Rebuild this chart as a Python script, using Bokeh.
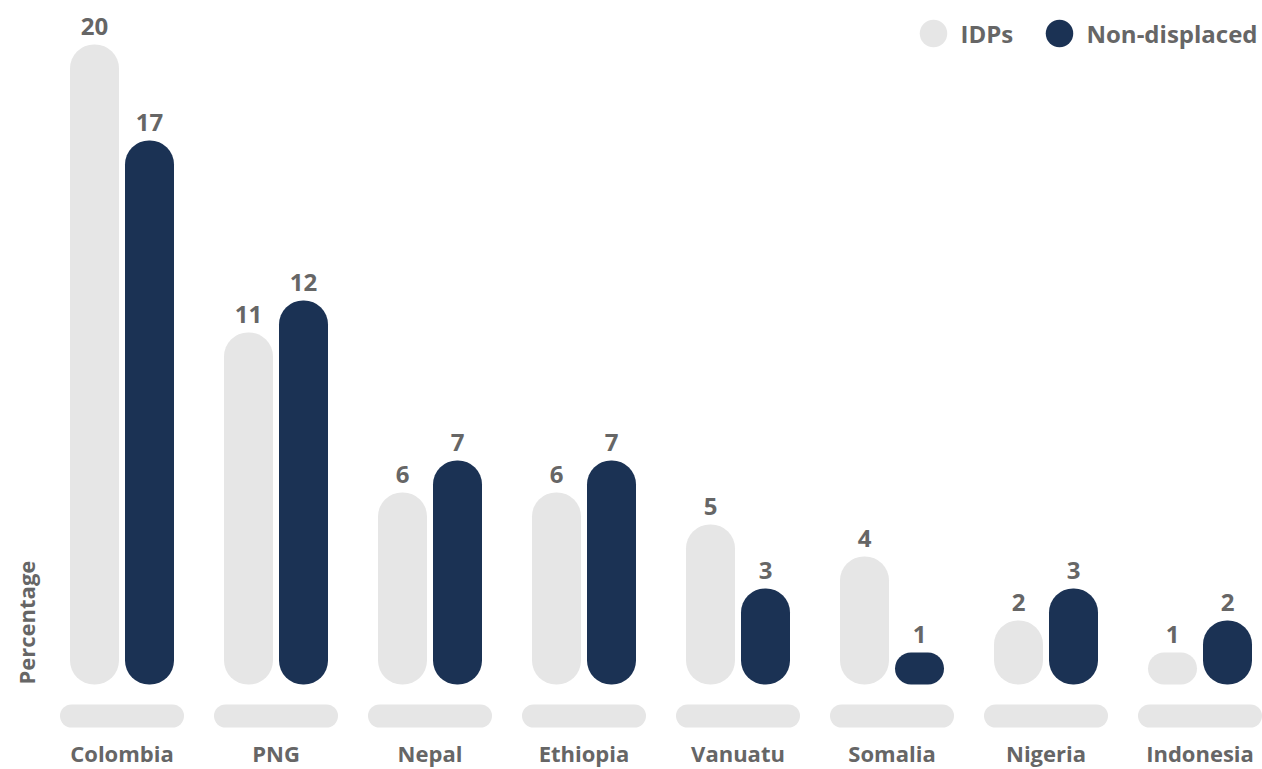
from bokeh.plotting import figure
from bokeh.models import Range1d, ColumnDataSource
from bokeh.transform import dodge
from bokeh.core.properties import value
from bokeh.embed import file_html
from bokeh.resources import INLINE
import math

# ---- data ----
countries = ["Colombia", "PNG", "Nepal", "Ethiopia", "Vanuatu", "Somalia", "Nigeria", "Indonesia"]
idps = [20, 11, 6, 6, 5, 4, 2, 1]
non_displaced = [17, 12, 7, 7, 3, 1, 3, 2]
series_names = ["IDPs", "Non-displaced"]
axis_title = "Percentage"

# ---- style ----
GREY = "#e6e6e6"
NAVY = "#1b3254"
TXT = "#666666"
FONT = value("Open Sans")
FIX = -9.5   # baseline correction for svg text (px)

W, H = 1262, 769
# layout mapping (canvas pixels -> data units)
X0, XS = 121.5, 154.0          # x of first group centre, px per category
Y0, YS = 684.0, 32.0            # y of zero line, px per unit
def X(px):
    return (px - X0) / XS
def Y(py):
    return (Y0 - py) / YS

p = figure(width=W, height=H, output_backend="svg", toolbar_location=None,
           x_range=Range1d(X(0), X(W)), y_range=Range1d(Y(H), Y(0)),
           min_border=0, outline_line_color=None, background_fill_color="white")
p.axis.visible = False
p.grid.visible = False

idx = list(range(len(countries)))
src = ColumnDataSource(dict(x=idx, country=countries, idps=idps, nd=non_displaced,
                            idps_t=[str(v) for v in idps], nd_t=[str(v) for v in non_displaced]))

bw = 49 / XS
off = 27.5 / XS

# category pills
pill_half_h = 11.5 / YS
pill_c = Y(715.5)
p.vbar(x="x", top=pill_c + pill_half_h, bottom=pill_c - pill_half_h, width=124 / XS,
       source=src, fill_color=GREY, line_color=None, border_radius=12)

# bars
p.vbar(x=dodge("x", -off, range=p.x_range), top="idps", bottom=0, width=bw, source=src,
       fill_color=GREY, line_color=None, border_radius=24)
p.vbar(x=dodge("x", off, range=p.x_range), top="nd", bottom=0, width=bw, source=src,
       fill_color=NAVY, line_color=None, border_radius=24)

# value labels
common = dict(text_font=FONT, text_font_style="bold", text_color=TXT,
              text_align="center", text_baseline="alphabetic")
p.text(x=dodge("x", -off, range=p.x_range), y="idps", text="idps_t", source=src,
       y_offset=-9 + FIX, text_font_size="24px", **common)
p.text(x=dodge("x", off, range=p.x_range), y="nd", text="nd_t", source=src,
       y_offset=-9 + FIX, text_font_size="24px", **common)

# category labels
p.text(x="x", y=Y(762), text="country", source=src, y_offset=FIX,
       text_font_size="22px", **common)

# axis title
p.text(x=[X(35 + FIX)], y=[0], text=[axis_title], angle=math.pi / 2, text_font=FONT,
       text_font_style="bold", text_color=TXT, text_font_size="22px",
       text_align="left", text_baseline="alphabetic")

# legend
ly = Y(33)
p.scatter(x=[X(933), X(1059)], y=[ly, ly], marker="circle", size=27.5,
          fill_color=[GREY, NAVY], line_color=None)
p.text(x=[X(960)], y=[ly], text=[series_names[0]], y_offset=9.5 + FIX, text_font=FONT,
       text_font_style="bold", text_color=TXT, text_font_size="24px",
       text_align="left", text_baseline="alphabetic")
p.text(x=[X(1086)], y=[ly], text=[series_names[1]], y_offset=9.5 + FIX, text_font=FONT,
       text_font_style="bold", text_color=TXT, text_font_size="24px",
       text_align="left", text_baseline="alphabetic")

open("out.html", "w").write(file_html(p, INLINE))
